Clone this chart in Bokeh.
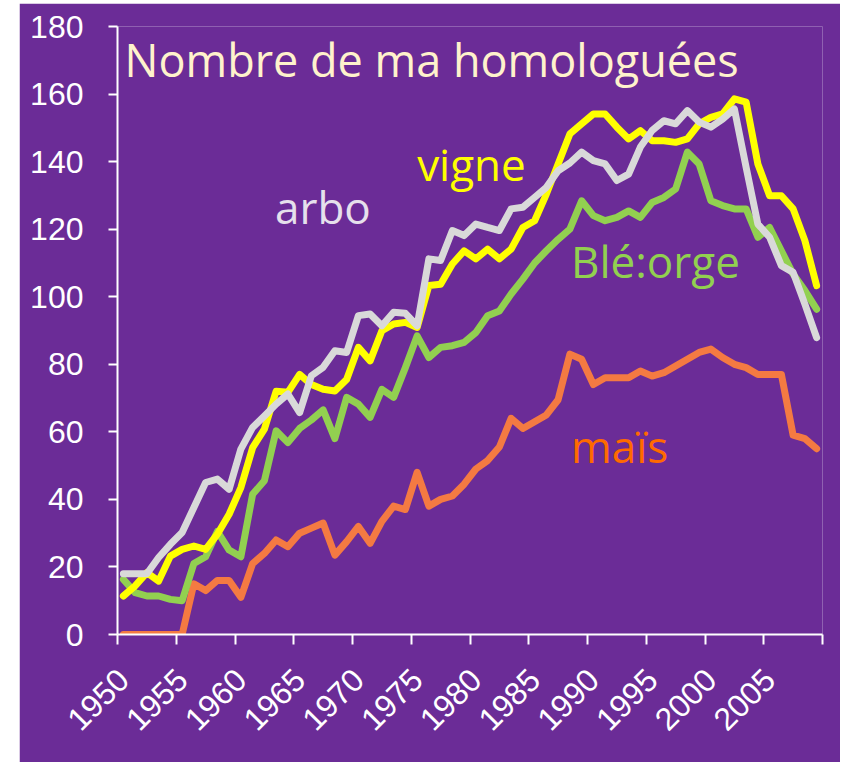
from bokeh.plotting import figure
from bokeh.models import Range1d, FixedTicker, ColumnDataSource
from bokeh.core.properties import value
from bokeh.embed import file_html
from bokeh.resources import INLINE
import math

years = list(range(1950, 2010))

mais = [0, 0, 0, 0, 0, 0, 15, 13, 16, 16,
        11, 21, 24, 28, 26, 30, 31.5, 33, 23.5, 27.5,
        32, 27, 33.5, 38, 37, 48, 38, 40, 41, 44.5,
        49, 51.5, 55.5, 64, 61, 63, 65, 69.5, 83, 81.5,
        74, 76, 76, 76, 78, 76.5, 77.5, 79.5, 81.5, 83.5,
        84.5, 82, 80, 79, 77, 77, 77, 59, 58, 55]

ble_orge = [16.3, 12.4, 11.4, 11.4, 10.4, 10, 21, 23, 30.5, 25,
            23, 41.5, 45.5, 60.3, 56.8, 61, 63.5, 66.5, 58, 70.2,
            68.2, 64.3, 72.6, 70.2, 79, 88.4, 82, 85, 85.5, 86.5,
            89.4, 94.4, 95.8, 100.8, 105.2, 110, 113.6, 117, 120, 128.4,
            124, 122.5, 123.5, 125.4, 123.5, 127.9, 129.4, 131.9, 142.8, 139.3,
            128.4, 127, 126, 126, 117.6, 120.5, 113.6, 106.7, 101.8, 96.3]

vigne = [11.4, 14.4, 18.3, 15.8, 23.2, 25.2, 26.2, 25.2, 29.7, 35.6,
         43.5, 55.3, 60.8, 72, 71.7, 77, 74, 72.6, 72.1, 75.5,
         85, 81, 89.9, 91.9, 92.4, 90.9, 103.3, 103.7, 109.7, 113.6,
         111.2, 114.1, 111.2, 114.1, 120.5, 122.5, 130.4, 139.3, 148.2, 151.2,
         154.1, 154.1, 150.2, 146.7, 149.2, 146.2, 146.2, 145.7, 146.7, 151.2,
         153.1, 154.1, 158.6, 157.6, 139.3, 129.9, 129.9, 126, 116.6, 103.3]

arbo = [18, 18, 18, 22.8, 26.7, 30.2, 37.6, 45, 46, 43,
        54.9, 61.3, 64.7, 68.2, 71.2, 65.7, 76.6, 79.1, 84, 83.5,
        94.4, 94.9, 91.4, 95.4, 95.1, 91.4, 111.2, 110.7, 119.6, 118.1,
        121.5, 120.5, 119.6, 126, 126.5, 129.4, 132.4, 137.3, 139.6, 142.8,
        140.3, 139.3, 134.4, 136.3, 144.3, 149.2, 152.1, 151.2, 155.1, 151.7,
        150.2, 152.6, 155.6, 138.3, 121.5, 117.6, 109.2, 107.2, 97.8, 87.9]

y_ticks = [0, 20, 40, 60, 80, 100, 120, 140, 160, 180]
x_label_years = [1950, 1955, 1960, 1965, 1970, 1975, 1980, 1985, 1990, 1995, 2000, 2005]
x_tick_marks = [1949.5 + 5 * i for i in range(13)]

label_texts = ["Nombre de ma homologuées", "arbo", "vigne", "Blé:orge", "maïs"]
label_x = [1950.1, 1962.9, 1975.0, 1988.1, 1988.1]
label_y = [170.2, 126.5, 139.4, 110.7, 55.9]
label_colors = ["#FFF2CC", "#E6E0EC", "#FFFF00", "#92D050", "#FF6A00"]
label_sizes = ["45px", "44px", "44px", "44px", "44px"]

BG = "#6B2C97"

p = figure(width=821, height=759, output_backend="svg", toolbar_location=None,
           x_range=Range1d(1949.5, 2009.5), y_range=Range1d(0, 180),
           background_fill_color=BG, border_fill_color=BG,
           min_border_left=98, min_border_right=18, min_border_top=23,
           min_border_bottom=128, outline_line_color=None)
p.styles = {"margin-left": "19px", "margin-top": "3px"}

p.xgrid.grid_line_color = None
p.ygrid.grid_line_color = None

# y axis
p.yaxis.ticker = FixedTicker(ticks=y_ticks)
p.yaxis.axis_line_color = "white"
p.yaxis.axis_line_width = 2
p.yaxis.major_tick_line_color = "white"
p.yaxis.major_tick_line_width = 2
p.yaxis.major_tick_out = 9
p.yaxis.major_tick_in = 0
p.yaxis.minor_tick_line_color = None
p.yaxis.major_label_text_color = "white"
p.yaxis.major_label_text_font = "Liberation Sans"
p.yaxis.major_label_text_font_size = "32px"
p.yaxis.major_label_standoff = 25

# x axis
p.xaxis.ticker = FixedTicker(ticks=x_label_years, minor_ticks=x_tick_marks)
p.xaxis.axis_line_color = "white"
p.xaxis.axis_line_width = 2
p.xaxis.major_tick_line_color = None
p.xaxis.major_tick_out = 0
p.xaxis.major_tick_in = 0
p.xaxis.minor_tick_line_color = "white"
p.xaxis.minor_tick_line_width = 2
p.xaxis.minor_tick_out = 10
p.xaxis.minor_tick_in = 0
p.xaxis.major_label_text_color = "white"
p.xaxis.major_label_text_font = "Liberation Sans"
p.xaxis.major_label_text_font_size = "32px"
p.xaxis.major_label_orientation = math.pi / 4
p.xaxis.major_label_standoff = 30

src = ColumnDataSource(dict(year=years, mais=mais, ble=ble_orge, vigne=vigne, arbo=arbo))
lw = 7
p.line("year", "mais", source=src, line_color="#F47A42", line_width=lw, line_join="round", line_cap="round")
p.line("year", "ble", source=src, line_color="#92D050", line_width=lw, line_join="round", line_cap="round")
p.line("year", "vigne", source=src, line_color="#FFFF00", line_width=lw, line_join="round", line_cap="round")
p.line("year", "arbo", source=src, line_color="#D9D9D9", line_width=lw, line_join="round", line_cap="round")

lsrc = ColumnDataSource(dict(x=label_x, y=label_y, text=label_texts, color=label_colors, size=label_sizes))
p.text(x="x", y="y", text="text", source=lsrc, text_color="color", text_font_size="size",
       text_font=value("Open Sans"), text_align="left", text_baseline="alphabetic")

open("out.html", "w").write(file_html(p, INLINE))
